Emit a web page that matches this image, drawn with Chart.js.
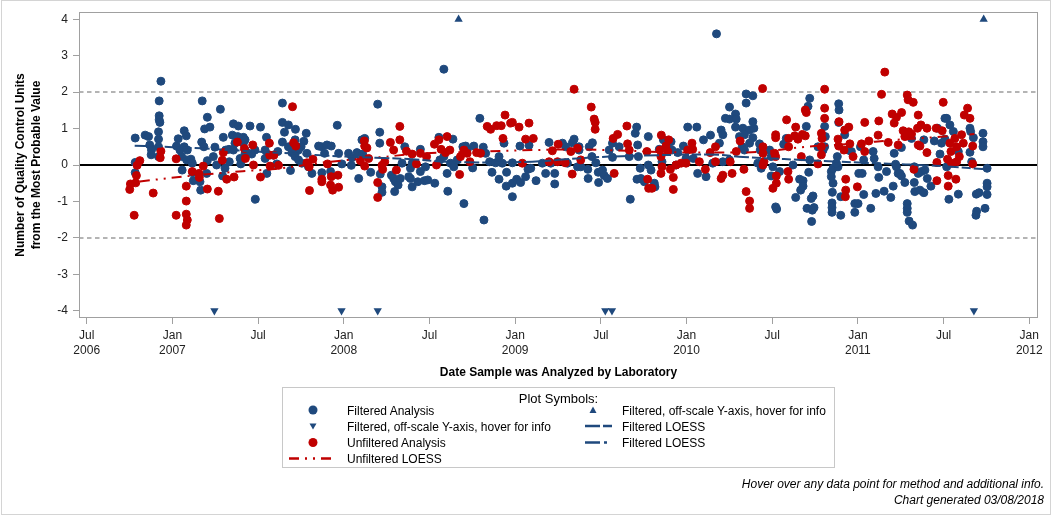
<!DOCTYPE html>
<html>
<head>
<meta charset="utf-8">
<script src="https://cdn.jsdelivr.net/npm/chart.js@4.4.1/dist/chart.umd.min.js"></script>
<style>
html,body{margin:0;padding:0;background:#fff;}
#wrap{position:relative;width:1056px;height:518px;font-family:"Liberation Sans",Arial,sans-serif;color:#000;overflow:hidden;}
#frame{position:absolute;left:1px;top:0;width:1050px;height:515px;border:1px solid #d4d4d4;box-sizing:border-box;pointer-events:none;}
#c{position:absolute;left:0;top:0;}
#legend{position:absolute;left:282px;top:387px;width:553px;height:81px;border:1px solid #c8c8c8;box-sizing:border-box;font-size:12px;}
#legend svg{position:absolute;left:-1px;top:-1px;}
.lt{position:absolute;line-height:14px;white-space:nowrap;}
#ltitle{position:absolute;left:0;width:551px;top:3px;text-align:center;font-size:13px;line-height:16px;}
#footer{position:absolute;right:12px;top:476px;text-align:right;font-style:italic;font-size:12px;line-height:16px;white-space:nowrap;}
</style>
</head>
<body>
<div id="wrap">
  <canvas id="c" width="1056" height="518" style="width:1056px;height:518px;"></canvas>
  <div id="legend">
    <svg width="553" height="81" viewBox="0 0 553 81">
      <circle cx="31" cy="23" r="4.5" fill="#1f497d"/>
      <polygon points="27.5,36.5 34.5,36.5 31,42.5" fill="#1f497d"/>
      <circle cx="31" cy="55.5" r="4.5" fill="#c00000"/>
      <line x1="7" y1="71.5" x2="50" y2="71.5" stroke="#c00000" stroke-width="2.5" stroke-dasharray="10 6 2 6 2 6"/>
      <polygon points="307.5,26 314.5,26 311,19.5" fill="#1f497d"/>
      <line x1="303" y1="39" x2="330" y2="39" stroke="#1f497d" stroke-width="2.5" stroke-dasharray="15 3 9 3"/>
      <line x1="303" y1="55.5" x2="330" y2="55.5" stroke="#1f497d" stroke-width="2.5" stroke-dasharray="15 4 3 50"/>
    </svg>
    <div id="ltitle">Plot Symbols:</div>
    <div class="lt" style="left:64px;top:16px;">Filtered Analysis</div>
    <div class="lt" style="left:64px;top:32px;">Filtered, off-scale Y-axis, hover for info</div>
    <div class="lt" style="left:64px;top:48px;">Unfiltered Analysis</div>
    <div class="lt" style="left:64px;top:64px;">Unfiltered LOESS</div>
    <div class="lt" style="left:339px;top:16px;">Filtered, off-scale Y-axis, hover for info</div>
    <div class="lt" style="left:339px;top:32px;">Filtered LOESS</div>
    <div class="lt" style="left:339px;top:48px;">Filtered LOESS</div>
  </div>
  <div id="footer">Hover over any data point for method and additional info.<br>Chart generated 03/08/2018</div>
  <div id="frame"></div>
</div>
<script>
// ---------------- DATA (x = decimal year, y = QC units from MPV) ----------------
const xTickValues = [2006.5, 2007, 2007.5, 2008, 2008.5, 2009, 2009.5, 2010, 2010.5, 2011, 2011.5, 2012];
const xTickLabels = [["Jul","2006"],["Jan","2007"],["Jul",""],["Jan","2008"],["Jul",""],["Jan","2009"],["Jul",""],["Jan","2010"],["Jul",""],["Jan","2011"],["Jul",""],["Jan","2012"]];
const yTickValues = [-4, -3, -2, -1, 0, 1, 2, 3, 4];
const zeroLineValue = 0;
const limitLineValues = [2, -2];

const filteredAnalysis = [
[2006.933,2.30],[2006.923,1.76],[2006.923,1.35],[2006.923,1.24],[2006.927,1.17],[2006.919,0.91],[2006.919,0.71],[2006.919,0.50],[2006.919,0.23],
[2006.783,0.74],[2006.841,0.82],[2006.861,0.78],[2006.783,0.07],[2006.783,-0.21],[2006.868,0.55],[2006.878,0.41],[2006.876,0.28],
[2007.174,1.76],[2007.204,1.31],[2007.188,0.99],[2007.219,1.04],[2007.280,1.53],[2007.297,0.76],[2007.356,1.13],[2007.385,1.07],[2007.453,1.07],
[2007.350,0.82],[2007.381,0.78],[2007.414,0.76],[2007.034,0.72],[2007.069,0.94],[2007.081,0.80],[2007.024,0.52],[2007.044,0.41],[2007.069,0.50],
[2007.087,0.41],[2007.054,0.23],[2007.083,0.14],[2007.108,0.16],[2007.116,0.05],[2007.057,-0.14],[2007.118,-0.21],[2007.122,-0.43],[2007.161,-0.46],
[2007.165,-0.69],[2007.171,0.63],[2007.184,0.50],[2007.204,0.12],[2007.200,-0.23],[2007.248,0.49],[2007.239,0.23],[2007.258,0.00],[2007.293,-0.30],
[2007.307,-0.09],[2007.311,0.41],[2007.330,0.43],[2007.332,0.09],[2007.356,0.41],[2007.365,0.60],[2007.395,0.18],[2007.399,0.03],[2007.414,0.60],
[2007.424,0.32],[2007.443,0.32],
[2007.642,1.70],[2007.514,1.04],[2007.484,-0.94],[2007.642,1.17],[2007.677,1.10],[2007.718,0.98],[2007.654,0.90],[2007.549,0.76],[2007.642,0.63],
[2007.677,0.50],[2007.716,0.69],[2007.781,0.87],[2007.767,0.65],[2007.751,0.50],[2007.736,0.41],[2007.697,0.34],[2007.716,0.23],[2007.736,0.14],
[2007.755,0.05],[2007.785,0.32],[2007.794,-0.05],[2007.814,-0.23],[2007.689,-0.15],[2007.615,0.37],[2007.588,0.27],[2007.557,0.29],[2007.541,0.41],
[2007.541,0.18],[2007.551,-0.23],[2007.482,0.41],[2007.463,0.30],[2007.424,0.69],[2007.424,0.41],[2007.609,0.03],[2007.872,0.50],[2007.853,0.52],
[2007.902,0.55],[2007.927,0.52],[2007.888,0.32],[2007.872,-0.21],[2007.923,-0.18],[2007.962,1.09],[2007.970,0.32],[2007.989,0.03],[2008.028,0.32],
[2008.044,-0.01],[2008.048,0.20],[2008.077,0.34],[2008.087,-0.37],[2008.106,0.69],[2008.110,0.30],[2008.122,0.73],[2008.157,-0.20],[2008.198,1.67],
[2008.210,0.90],[2008.210,0.60],[2008.213,-0.25],[2008.223,-0.60],[2008.223,-0.75],[2008.278,-0.28],[2008.291,-0.37],[2008.301,-0.46],[2008.317,-0.55],
[2008.330,-0.37],[2008.297,-0.73],[2008.356,0.50],[2008.379,-0.32],[2008.399,-0.60],[2008.389,-0.09],[2008.340,0.05],
[2008.584,2.63],[2008.794,1.28],[2008.701,-1.06],[2008.818,-1.51],[2008.389,-0.37],[2008.432,-0.46],[2008.471,-0.43],[2008.490,-0.41],[2008.531,-0.50],
[2008.447,-0.18],[2008.447,0.43],[2008.477,-0.05],[2008.399,0.05],[2008.555,0.76],[2008.561,0.14],[2008.584,0.23],[2008.603,-0.23],[2008.607,-0.72],
[2008.637,0.71],[2008.623,0.05],[2008.642,-0.05],[2008.662,0.14],[2008.695,0.50],[2008.711,0.52],[2008.720,0.41],[2008.759,0.52],[2008.752,-0.08],
[2008.814,0.49],[2008.828,0.32],[2008.851,0.09],[2008.865,-0.20],[2008.886,0.06],[2008.906,0.23],[2008.906,-0.39],[2008.935,0.60],[2008.925,0.05],
[2008.950,-0.20],[2008.948,-0.58],[2008.984,0.06],[2008.984,-0.50],[2008.984,-0.87],[2009.009,-0.39],[2009.032,-0.48],[2009.028,0.52],[2009.061,-0.32],
[2009.081,0.54],[2009.075,-0.12],[2009.091,-0.09],[2009.122,-0.43],[2009.159,0.05],[2009.178,-0.23],[2009.198,0.62],[2009.208,0.05],[2009.231,-0.23],
[2009.231,-0.52],[2009.276,0.60],[2009.295,0.50],[2009.305,0.05],[2009.334,0.61],[2009.344,0.71],[2009.364,-0.05],[2009.373,0.50],
[2010.175,3.60],[2010.348,1.95],[2010.348,1.70],[2009.373,0.41],[2009.383,-0.05],[2009.432,0.50],[2009.451,0.61],[2009.448,0.23],[2009.424,-0.12],
[2009.426,-0.37],[2009.471,0.06],[2009.485,-0.20],[2009.487,-0.48],[2009.510,-0.14],[2009.520,-0.29],[2009.539,-0.37],[2009.549,0.41],[2009.568,0.60],
[2009.568,0.21],[2009.607,0.50],[2009.672,-0.94],[2009.666,0.23],[2009.701,0.87],[2009.709,1.04],[2009.715,0.55],[2009.719,0.23],[2009.730,-0.09],
[2009.711,-0.39],[2009.734,-0.37],[2009.754,-0.46],[2009.777,0.78],[2009.777,0.00],[2009.793,-0.14],[2009.812,-0.50],[2009.816,-0.60],[2009.841,0.43],
[2009.865,0.69],[2009.857,0.09],[2009.910,0.64],[2009.915,0.41],[2009.939,0.00],[2009.949,0.34],[2009.982,0.52],[2009.997,0.18],[2010.007,1.04],
[2010.040,0.18],[2010.060,1.04],[2010.065,-0.23],[2010.099,0.69],[2010.114,-0.32],[2010.140,0.82],[2010.153,0.05],[2010.192,0.60],[2010.202,0.96],
[2010.212,0.83],[2010.227,1.28],[2010.251,1.59],[2010.251,1.26],[2010.286,1.40],[2010.290,1.26],[2010.286,1.04],[2010.309,0.78],[2010.329,1.01],
[2010.325,0.50],[2010.251,0.14],[2010.212,0.09],[2010.338,0.41],
[2010.387,1.90],[2010.368,0.96],[2010.393,1.01],[2010.387,1.19],[2010.338,0.83],[2010.387,0.75],[2010.368,0.60],[2010.426,0.58],[2010.430,0.41],
[2010.416,0.05],[2010.436,-0.09],[2010.485,0.41],[2010.494,0.23],[2010.504,-0.05],[2010.494,-0.30],[2010.520,-1.15],[2010.526,-1.21],[2010.543,-0.18],
[2010.567,0.57],[2010.582,0.73],[2010.621,0.00],[2010.637,-0.89],[2010.660,-0.39],[2010.680,-0.43],[2010.666,-0.69],[2010.680,-0.58],[2010.709,1.61],
[2010.719,1.83],[2010.699,1.06],[2010.703,-1.19],[2010.728,-0.92],[2010.738,-0.85],[2010.734,-1.24],[2010.744,-1.17],[2010.730,-1.55],[2010.713,-0.20],
[2010.719,0.14],[2010.806,1.06],[2010.810,0.78],[2010.806,0.50],[2010.845,-0.18],[2010.855,-0.09],[2010.845,-0.32],[2010.855,-0.50],[2010.851,-0.75],
[2010.849,-1.04],[2010.849,-1.17],[2010.849,-1.30],[2010.888,1.68],[2010.890,1.51],[2010.888,1.17],[2010.880,0.23],[2010.884,-0.05],[2010.900,-0.87],
[2010.900,-1.38],[2010.875,0.05],[2010.923,0.83],[2010.943,0.41],[2010.962,0.37],[2010.982,-1.06],[2011.001,-1.06],[2010.982,-1.30],[2011.005,-0.23],
[2011.025,-0.23],[2011.015,0.50],[2011.034,0.14],[2011.034,-0.81],[2011.075,-1.19],[2011.089,0.37],[2011.095,0.18],[2011.105,-0.78],[2011.122,-0.34],
[2011.118,-0.05],[2011.153,-0.72],[2011.167,-0.18],[2011.192,-0.89],[2011.206,-0.58],[2011.212,0.32],[2011.220,0.02],[2011.235,-0.23],[2010.767,0.50],
[2010.797,0.41],
[2011.254,0.48],[2011.225,-0.05],[2011.245,-0.23],[2011.254,-0.30],[2011.274,-0.48],[2011.288,-1.06],[2011.288,-1.19],[2011.288,-1.30],[2011.299,-1.54],
[2011.319,-1.65],[2011.313,0.73],[2011.329,-0.05],[2011.329,-0.48],[2011.332,-0.73],[2011.362,-0.69],[2011.385,-0.76],[2011.352,-0.23],[2011.371,-0.18],
[2011.391,-0.14],[2011.405,-0.37],[2011.426,-0.58],[2011.385,0.69],[2011.446,0.66],[2011.465,1.01],[2011.488,0.60],[2011.479,0.30],[2011.508,1.28],
[2011.518,1.28],[2011.537,1.10],[2011.557,0.92],[2011.508,0.71],[2011.518,-0.05],[2011.531,-0.94],[2011.586,-0.80],[2011.586,0.37],[2011.654,1.01],
[2011.658,0.92],[2011.674,0.75],[2011.654,0.35],[2011.664,0.09],[2011.691,-0.80],[2011.707,-0.76],[2011.693,-1.27],[2011.689,-1.38],[2011.742,-1.19],
[2011.730,0.87],[2011.730,0.64],[2011.730,0.50],[2011.754,-0.09],[2011.754,-0.50],[2011.754,-0.60],[2011.754,-0.81]
];

const unfilteredAnalysis = [
[2006.777,-1.38],[2006.751,-0.67],[2006.755,-0.52],[2006.786,-0.49],[2006.790,-0.29],[2006.794,-0.01],[2006.810,0.12],[2006.888,-0.77],[2006.933,0.38],
[2006.929,0.20],[2007.022,0.17],[2007.022,-1.38],[2007.081,-0.58],[2007.081,-0.99],[2007.081,-1.35],[2007.087,-1.51],[2007.081,-1.65],[2007.116,-0.18],
[2007.155,-0.23],[2007.157,-0.34],[2007.180,-0.03],[2007.204,-0.66],[2007.268,-0.72],[2007.274,-1.47],[2007.297,0.34],[2007.291,0.13],[2007.317,-0.39],
[2007.360,-0.33],[2007.379,0.63],[2007.420,0.45],[2007.426,0.18],
[2007.701,1.60],[2007.469,0.55],[2007.566,0.60],[2007.568,0.27],[2007.592,0.27],[2007.473,0.00],[2007.514,-0.33],[2007.570,-0.03],[2007.619,-0.01],
[2007.707,0.61],[2007.720,0.52],[2007.785,0.06],[2007.798,-0.05],[2007.820,0.16],[2007.800,-0.70],[2007.872,-0.39],[2007.872,-0.46],[2007.905,0.03],
[2007.927,-0.32],[2007.923,-0.55],[2007.935,-0.69],[2007.966,-0.28],[2007.970,-0.61],[2008.120,0.66],[2008.122,0.52],[2008.135,0.47],[2008.097,0.12],
[2008.122,-0.03],[2008.145,0.18],[2008.198,-0.48],[2008.198,-0.89],[2008.223,-0.01],[2008.227,-0.12],[2008.239,0.09],[2008.272,0.62],[2008.291,0.41],
[2008.307,-0.14],[2008.327,1.06],[2008.327,0.69],[2008.366,0.38],[2008.399,0.30],
[2009.344,2.08],[2008.941,1.37],[2008.974,1.15],[2008.984,1.17],[2008.837,1.06],[2008.857,0.98],[2008.892,1.08],[2008.919,1.08],[2009.023,1.04],
[2009.081,1.15],[2008.929,0.73],[2009.061,0.71],[2009.106,0.73],[2008.529,0.57],[2008.555,0.69],[2008.603,0.78],[2008.568,0.43],[2008.619,0.41],
[2008.594,0.34],[2008.447,0.32],[2008.424,0.03],[2008.483,0.23],[2008.541,0.00],[2008.676,-0.26],[2008.681,0.23],[2008.701,0.41],[2008.720,0.32],
[2008.736,0.09],[2008.775,0.34],[2008.798,0.32],[2009.042,0.05],[2009.217,0.39],[2009.251,0.57],[2009.198,0.09],[2009.247,0.09],[2009.292,0.06],
[2009.333,-0.25],[2009.325,0.37],[2009.364,0.46],
[2009.444,1.59],[2009.461,1.26],[2009.467,1.17],[2009.467,0.98],[2009.383,0.14],[2009.572,0.73],[2009.598,0.84],[2009.578,-0.23],[2009.652,1.07],
[2009.656,0.58],[2009.666,0.41],[2009.769,0.37],[2009.773,-0.39],[2009.779,-0.64],[2009.798,-0.64],[2009.853,0.82],[2009.845,0.41],[2009.851,0.23],
[2009.857,-0.05],[2009.851,-0.23],[2009.880,0.52],[2009.896,0.69],[2009.890,0.37],[2009.906,-0.12],[2009.923,-0.34],[2009.923,-0.67],[2009.939,0.00],
[2009.968,0.05],[2009.997,0.05],[2010.007,0.41],[2010.032,0.60],[2010.036,0.43],[2010.075,0.09],[2010.110,-0.12],[2010.138,0.34],[2010.169,0.50],
[2010.169,0.09],[2010.202,-0.37],[2010.212,-0.28],[2010.255,0.09],[2010.266,-0.23],[2010.290,0.37],[2010.313,0.66],[2010.348,-0.73],
[2010.444,2.10],[2010.806,2.08],[2011.157,2.55],[2011.138,1.94],[2010.335,-0.12],[2010.368,-0.99],[2010.368,-1.19],[2010.446,0.50],[2010.446,0.32],
[2010.452,0.09],[2010.446,0.00],[2010.520,0.83],[2010.520,0.75],[2010.514,0.32],[2010.520,0.23],[2010.524,-0.30],[2010.524,-0.50],[2010.504,-0.64],
[2010.584,1.24],[2010.596,0.73],[2010.596,0.50],[2010.592,-0.18],[2010.596,-0.39],[2010.631,0.80],[2010.637,1.04],[2010.650,0.71],[2010.670,0.23],
[2010.676,0.84],[2010.693,1.51],[2010.699,1.44],[2010.693,0.80],[2010.787,0.87],[2010.791,0.73],[2010.806,1.56],[2010.806,1.28],[2010.787,0.50],
[2010.787,0.28],[2010.767,0.03],[2010.884,0.71],[2010.888,0.52],[2010.890,1.19],[2010.923,0.96],[2010.947,1.04],[2010.953,0.58],[2010.929,-0.39],
[2010.929,-0.69],[2010.927,-0.87],[2010.919,0.41],[2010.972,0.23],[2010.997,-0.60],[2011.021,0.58],[2011.040,1.17],[2011.040,0.37],[2011.064,0.66],
[2011.118,0.82],[2011.122,1.21],[2011.177,0.62],[2011.200,1.40],[2011.212,1.15],[2011.225,1.31],[2011.235,0.55],[2011.255,1.44],
[2011.288,1.92],[2011.293,1.79],[2011.323,1.72],[2011.264,0.94],[2011.274,0.78],[2011.297,0.91],[2011.313,0.85],[2011.327,-0.12],[2011.352,1.37],
[2011.348,1.01],[2011.368,1.10],[2011.352,0.55],[2011.362,0.52],[2011.403,1.01],[2011.403,0.34],[2011.457,1.01],[2011.492,0.94],[2011.498,1.72],
[2011.461,0.07],[2011.461,-0.43],[2011.527,-0.29],[2011.527,-0.58],[2011.523,0.16],[2011.537,0.60],[2011.543,0.37],[2011.547,0.05],[2011.566,0.73],
[2011.576,0.50],[2011.572,-0.39],[2011.576,0.09],[2011.592,0.23],[2011.605,0.83],[2011.615,0.60],[2011.621,1.37],[2011.640,1.56],[2011.654,1.28],
[2011.670,0.52],[2011.670,0.03]
];

const offscaleHigh = [[2008.670,4],[2011.734,4]];
const offscaleLow = [[2007.245,-4],[2007.987,-4],[2008.198,-4],[2009.526,-4],[2009.565,-4],[2011.677,-4]];

const filteredLoess = [
[2006.78,0.53],[2006.95,0.50],[2007.20,0.45],[2007.45,0.38],[2007.68,0.32],[2008.01,0.23],[2008.40,0.16],[2008.60,0.09],[2008.85,0.07],
[2009.10,0.09],[2009.36,0.18],[2009.55,0.23],[2009.75,0.26],[2010.13,0.29],[2010.33,0.22],[2010.67,0.14],[2010.90,0.09],[2011.21,0.03],
[2011.45,-0.02],[2011.75,-0.12]
];
const unfilteredLoess = [
[2006.81,-0.45],[2007.10,-0.30],[2007.41,-0.17],[2007.60,-0.11],[2007.90,0.08],[2008.25,0.23],[2008.40,0.30],[2008.80,0.37],[2009.10,0.41],
[2009.35,0.43],[2009.60,0.40],[2009.90,0.35],[2010.30,0.34],[2010.45,0.37],[2010.70,0.50],[2010.90,0.56],[2011.10,0.64],[2011.25,0.70],
[2011.50,0.78],[2011.68,0.85]
];

// ---------------- STYLE / CHART ----------------
const BLUE = '#1f497d';
const RED = '#c00000';
const toXY = arr => arr.map(p => ({x: p[0], y: p[1]}));

Chart.defaults.font.family = '"Liberation Sans", Arial, sans-serif';
Chart.defaults.color = '#222';

const refPlugin = {
  id: 'refLines',
  beforeDatasetsDraw(chart) {
    const {ctx, chartArea: a, scales: {y}} = chart;
    ctx.save();
    ctx.lineWidth = 2;
    ctx.strokeStyle = '#b4b4b4';
    ctx.setLineDash([4.5, 3.5]);
    limitLineValues.forEach(v => {
      const py = Math.round(y.getPixelForValue(v));
      ctx.beginPath(); ctx.moveTo(a.left, py); ctx.lineTo(a.right, py); ctx.stroke();
    });
    ctx.setLineDash([]);
    ctx.strokeStyle = '#000';
    ctx.lineWidth = 2;
    const pz = Math.round(y.getPixelForValue(zeroLineValue));
    ctx.beginPath(); ctx.moveTo(a.left, pz); ctx.lineTo(a.right, pz); ctx.stroke();
    ctx.restore();
  },
  afterDraw(chart) {
    const {ctx, chartArea: a} = chart;
    ctx.save();
    ctx.strokeStyle = '#a0a0a0';
    ctx.lineWidth = 1;
    ctx.strokeRect(a.left + 0.5, a.top + 0.5, a.right - a.left - 1, a.bottom - a.top - 1);
    ctx.restore();
  }
};

new Chart(document.getElementById('c'), {
  type: 'scatter',
  data: {
    datasets: [
      {label: 'Filtered LOESS', data: toXY(filteredLoess), showLine: true, borderColor: BLUE, borderWidth: 2,
       borderDash: [15, 3, 9, 3], pointRadius: 0, fill: false, cubicInterpolationMode: 'monotone', order: 0},
      {label: 'Unfiltered LOESS', data: toXY(unfilteredLoess), showLine: true, borderColor: RED, borderWidth: 2,
       borderDash: [10, 6, 2, 6, 2, 6], pointRadius: 0, fill: false, cubicInterpolationMode: 'monotone', order: 0},
      {label: 'Filtered, off-scale Y-axis (high)', data: toXY(offscaleHigh), pointStyle: 'triangle', pointRadius: 4.8,
       pointBackgroundColor: BLUE, pointBorderColor: BLUE, backgroundColor: BLUE, borderColor: BLUE, pointBorderWidth: 0, order: 1},
      {label: 'Filtered, off-scale Y-axis (low)', data: toXY(offscaleLow), pointStyle: 'triangle', pointRotation: 180, pointRadius: 4.8,
       pointBackgroundColor: BLUE, pointBorderColor: BLUE, backgroundColor: BLUE, borderColor: BLUE, pointBorderWidth: 0, order: 1},
      {label: 'Unfiltered Analysis', data: toXY(unfilteredAnalysis), pointStyle: 'circle', pointRadius: 4, pointBorderWidth: 1,
       pointBackgroundColor: RED, pointBorderColor: RED, backgroundColor: RED, borderColor: RED, order: 2},
      {label: 'Filtered Analysis', data: toXY(filteredAnalysis), pointStyle: 'circle', pointRadius: 4, pointBorderWidth: 1,
       pointBackgroundColor: BLUE, pointBorderColor: BLUE, backgroundColor: BLUE, borderColor: BLUE, order: 3}
    ]
  },
  options: {
    responsive: false,
    animation: false,
    devicePixelRatio: 1,
    layout: {padding: {left: 0, top: 12, right: 18, bottom: 134}},
    plugins: {legend: {display: false}, tooltip: {enabled: false}},
    scales: {
      x: {
        type: 'linear',
        min: 2006.455, max: 2012.051,
        afterBuildTicks: s => { s.ticks = xTickValues.map(v => ({value: v})); },
        afterFit: s => { s.height = 66; },
        ticks: {
          autoSkip: false, maxRotation: 0, minRotation: 0, padding: 4, color: '#222',
          font: {size: 12, lineHeight: 1.25},
          callback: (v, i) => xTickLabels[i]
        },
        grid: {display: true, drawOnChartArea: false, drawTicks: true, tickLength: 6, color: '#a0a0a0'},
        border: {display: false},
        title: {display: true, text: 'Date Sample was Analyzed by Laboratory', color: '#000',
                font: {size: 12, weight: 'bold'}, padding: {top: 0, bottom: 4}}
      },
      y: {
        type: 'linear',
        min: -4.2, max: 4.2,
        afterBuildTicks: s => { s.ticks = yTickValues.map(v => ({value: v})); },
        afterFit: s => { s.width = 79; },
        ticks: {padding: 5, color: '#222', font: {size: 12, lineHeight: 1.0}, callback: v => String(v)},
        grid: {display: true, drawOnChartArea: false, drawTicks: true, tickLength: 6, color: '#a0a0a0'},
        border: {display: false},
        title: {display: true, text: ['Number of Quality Control Units', 'from the Most Probable Value'], color: '#000',
                font: {size: 12, weight: 'bold', lineHeight: 1.33}, padding: {top: 13, bottom: 0}}
      }
    }
  },
  plugins: [refPlugin]
});
</script>
</body>
</html>
